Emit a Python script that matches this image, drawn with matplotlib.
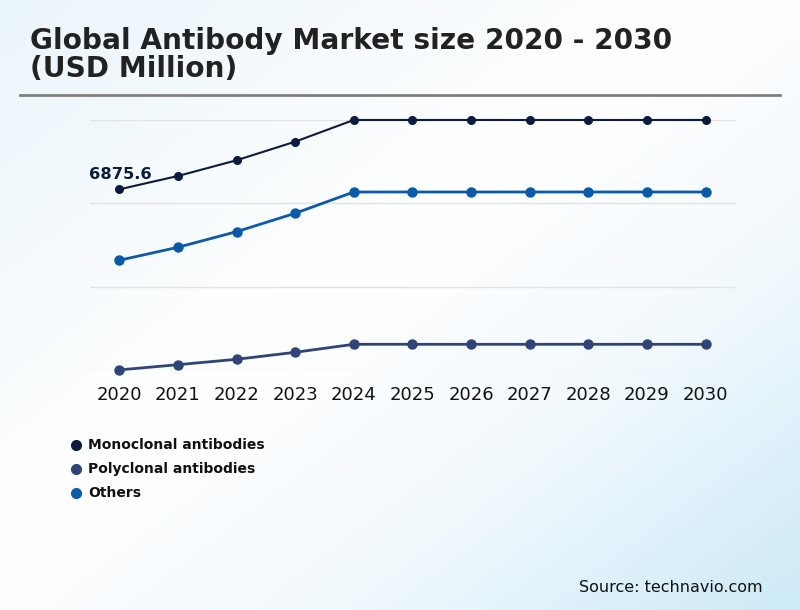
import numpy as np
import matplotlib
matplotlib.use("Agg")
import matplotlib.pyplot as plt
from matplotlib.colors import LinearSegmentedColormap
from matplotlib.lines import Line2D

plt.rcParams["font.family"] = ["DejaVu Sans"]

years = [2020, 2021, 2022, 2023, 2024, 2025, 2026, 2027, 2028, 2029, 2030]
monoclonal = [6875.6, 7383, 7980, 8687, 9511, 9511, 9511, 9511, 9511, 9511, 9511]
polyclonal = [15, 213, 418, 684, 988, 988, 988, 988, 988, 988, 988]
others = [4180, 4674, 5267, 5966, 6775, 6775, 6775, 6775, 6775, 6775, 6775]
series_names = ["Monoclonal antibodies", "Polyclonal antibodies", "Others"]
grid_values = [0, 3170, 6340, 9510]

c_mono = "#0d1b3e"
c_poly = "#2f4477"
c_oth = "#0a5aa8"

fig = plt.figure(figsize=(8, 6.1), dpi=100)

# background gradient
bg = fig.add_axes([0, 0, 1, 1], zorder=-10)
xx, yy = np.meshgrid(np.linspace(0, 1, 200), np.linspace(0, 1, 200))
t = (xx + yy) / 2  # 0 top-left, 1 bottom-right
cmap = LinearSegmentedColormap.from_list(
    "bg", [(0, "#eaf5fb"), (0.45, "#ffffff"), (0.7, "#f2f9fd"), (1, "#cdeaf7")])
bg.imshow(t, cmap=cmap, aspect="auto", extent=[0, 1, 0, 1])
bg.axis("off")

# title + separator
fig.text(30 / 800, 1 - 41 / 610, "Global Antibody Market size 2020 - 2030",
         fontsize=20.2, fontweight="bold", color="#222222", va="center", ha="left")
fig.text(30 / 800, 1 - 69 / 610, "(USD Million)",
         fontsize=20.2, fontweight="bold", color="#222222", va="center", ha="left")
fig.add_artist(Line2D([20 / 800, 780 / 800], [1 - 95 / 610, 1 - 95 / 610],
                      color="#808080", lw=2))

ax = fig.add_axes([90 / 800, 1 - 370.3 / 610, 646 / 800, 250.3 / 610])
ax.set_facecolor("none")
for s in ax.spines.values():
    s.set_visible(False)

ax.plot(years, monoclonal, color=c_mono, lw=1.5, marker="o", ms=5.5, clip_on=False, zorder=3)
ax.plot(years, others, color=c_oth, lw=2, marker="o", ms=6.5, clip_on=False, zorder=3)
ax.plot(years, polyclonal, color=c_poly, lw=2, marker="o", ms=6.5, clip_on=False, zorder=3)

ax.set_xlim(2019.5, 2030.52)
ax.set_ylim(0, 9510)
ax.set_yticks(grid_values)
ax.set_yticklabels([])
ax.grid(axis="y", color="#e3e3e3", lw=1)
ax.set_axisbelow(True)
ax.tick_params(axis="y", length=0)
ax.set_xticks(years)
ax.set_xticklabels([str(y) for y in years], fontsize=13, color="#111111")
ax.tick_params(axis="x", length=0, pad=11)

ax.annotate(f"{monoclonal[0]}", (years[0], monoclonal[0]), xytext=(-22, 5),
            textcoords="offset points", fontsize=11.7, fontweight="bold",
            color=c_mono, ha="left", va="bottom")

# legend
for i, (name, col) in enumerate(zip(series_names, [c_mono, c_poly, c_oth])):
    y = 1 - (445 + i * 23.8) / 610
    fig.add_artist(Line2D([75.5 / 800], [y], marker="o", ms=7, color=col, lw=0))
    fig.text(88 / 800, y, name, fontsize=10, fontweight="bold", color="#111111",
             va="center", ha="left")

fig.text(763 / 800, 1 - 588 / 610, "Source: technavio.com", fontsize=11.5,
         color="#111111", ha="right", va="center")

fig.savefig("out.png", dpi=100)
